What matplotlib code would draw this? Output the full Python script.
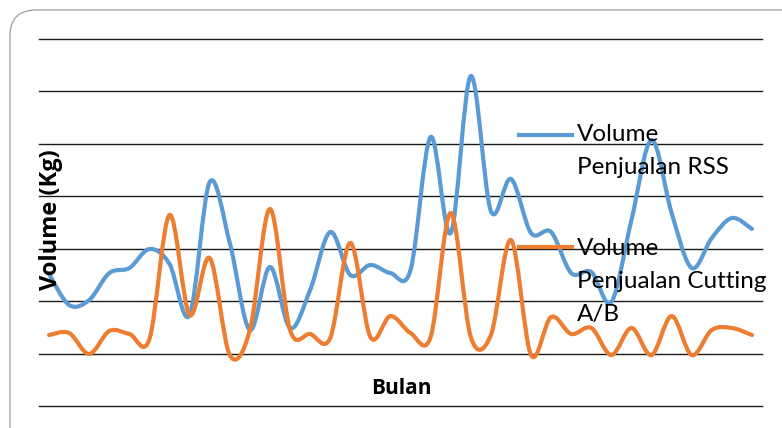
import numpy as np
import matplotlib.pyplot as plt
from matplotlib.path import Path
from matplotlib.patches import PathPatch, FancyBboxPatch
from matplotlib.lines import Line2D

plt.rcParams['font.family'] = ['Lato', 'DejaVu Sans']

# monthly sales volume (kg), 36 months
rss = [1259, 963, 1011, 1268, 1316, 1497, 1354, 868, 2136, 1555, 725, 1326,
       744, 1106, 1659, 1249, 1345, 1268, 1297, 2565, 1650, 3147, 1860, 2165,
       1650, 1659, 1268, 1278, 992, 1774, 2537, 1841, 1316, 1602, 1793, 1688]
cutting = [677, 696, 496, 715, 687, 639, 1822, 868, 1411, 486, 725, 1879,
           725, 687, 649, 1555, 658, 858, 696, 658, 1841, 658, 677, 1583,
           486, 849, 687, 744, 486, 744, 486, 858, 486, 725, 744, 677]
months = np.arange(len(rss))
gridvals = [0, 500, 1000, 1500, 2000, 2500, 3000, 3500]

label_rss = 'Volume\nPenjualan RSS'
label_cut = 'Volume\nPenjualan Cutting\nA/B'
c_rss = '#5B9BD5'
c_cut = '#ED7D31'


def smooth_path(x, y):
    # excel style smoothed line: cubic bezier through every point
    x = np.asarray(x, float)
    y = np.asarray(y, float)
    n = len(x)
    verts = [(x[0], y[0])]
    codes = [Path.MOVETO]
    for i in range(n - 1):
        p0 = max(i - 1, 0)
        p3 = min(i + 2, n - 1)
        c1 = (x[i] + (x[i + 1] - x[p0]) / 6, y[i] + (y[i + 1] - y[p0]) / 6)
        c2 = (x[i + 1] - (x[p3] - x[i]) / 6, y[i + 1] - (y[p3] - y[i]) / 6)
        verts += [c1, c2, (x[i + 1], y[i + 1])]
        codes += [Path.CURVE4] * 3
    return Path(verts, codes)


W, H = 782, 428
fig = plt.figure(figsize=(W / 100, H / 100), dpi=100)

# rounded chart border (runs off the right and bottom edge)
border = FancyBboxPatch((0.10, -0.40), 8.2, 4.58,
                        boxstyle='round,pad=0,rounding_size=0.26',
                        transform=fig.dpi_scale_trans, fill=False,
                        edgecolor='#a6a6a6', lw=1.0, clip_on=False)
fig.patches.append(border)

ax = fig.add_axes([39 / W, (H - 406) / H, 723 / W, 367 / H])
ax.set_xlim(-0.5, len(rss) - 0.5)
ax.set_ylim(gridvals[0], gridvals[-1])
for g in gridvals:
    ax.axhline(g, color='#1a1a1a', lw=1.0, clip_on=False, zorder=1)
for s in ax.spines.values():
    s.set_visible(False)
ax.set_xticks([])
ax.set_yticks([])

ax.add_patch(PathPatch(smooth_path(months, rss), fill=False, edgecolor=c_rss,
                       lw=3.0, capstyle='round', joinstyle='round', zorder=3))
ax.add_patch(PathPatch(smooth_path(months, cutting), fill=False, edgecolor=c_cut,
                       lw=3.0, capstyle='round', joinstyle='round', zorder=3))

# axis titles
fig.text(401 / W, 1 - 388 / H, 'Bulan', ha='center', va='center',
         fontsize=15, fontweight='bold', family=['Open Sans', 'DejaVu Sans'])
fig.text(51 / W, 1 - 220 / H, 'Volume (Kg)', ha='center', va='center',
         rotation=90, fontsize=17, fontweight='bold',
         family=['Open Sans', 'DejaVu Sans'])

# legend, drawn by hand: handle sits on the first text line
for yl, yb, col, lab in [(135, 141, c_rss, label_rss),
                         (247, 255, c_cut, label_cut)]:
    fig.add_artist(Line2D([519 / W, 572 / W], [1 - yl / H, 1 - yl / H],
                          color=col, lw=3.0, transform=fig.transFigure))
    for k, line in enumerate(lab.split('\n')):
        fig.text(577 / W, 1 - (yb + 33 * k) / H, line, ha='left',
                 va='baseline', fontsize=17.5)

fig.savefig('out.png', dpi=100)
